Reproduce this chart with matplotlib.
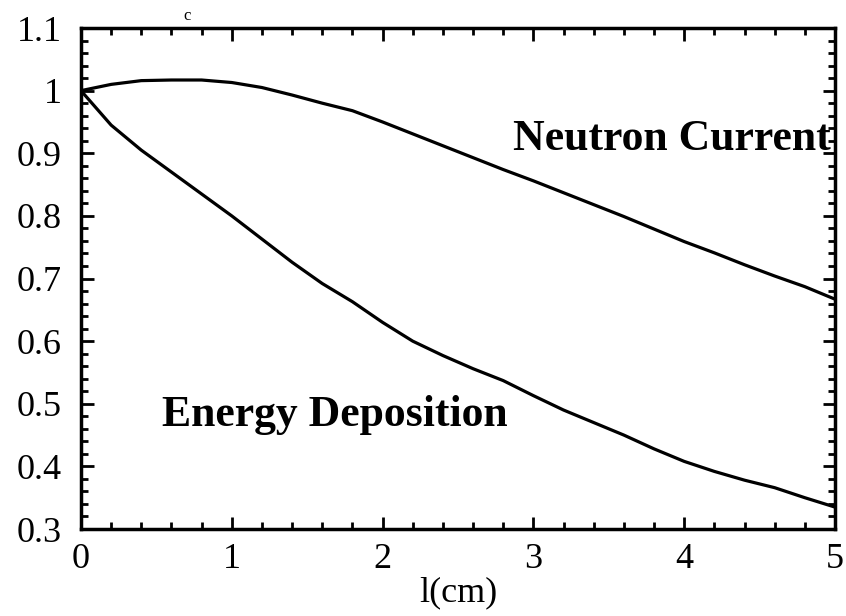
import numpy as np
import matplotlib.pyplot as plt
from matplotlib.ticker import MultipleLocator

plt.rc('font', family=['Liberation Serif', 'DejaVu Serif'], size=26)

# data
l_cm = [0.0, 0.2, 0.4, 0.6, 0.8, 1.0, 1.2, 1.4, 1.6, 1.8, 2.0, 2.2, 2.4,
        2.6, 2.8, 3.0, 3.2, 3.4, 3.6, 3.8, 4.0, 4.2, 4.4, 4.6, 4.8, 5.0]
neutron_current = [1.000, 1.010, 1.016, 1.017, 1.017, 1.013, 1.005, 0.993,
                   0.980, 0.968, 0.950, 0.931, 0.912, 0.893, 0.874, 0.856,
                   0.837, 0.818, 0.799, 0.779, 0.759, 0.741, 0.722, 0.704,
                   0.687, 0.667]
energy_deposition = [1.000, 0.945, 0.905, 0.870, 0.835, 0.800, 0.763, 0.726,
                     0.692, 0.663, 0.630, 0.600, 0.577, 0.556, 0.537, 0.513,
                     0.490, 0.470, 0.450, 0.428, 0.408, 0.392, 0.378, 0.366,
                     0.350, 0.335]

x_ticks = [0, 1, 2, 3, 4, 5]
x_labels = ['0', '1', '2', '3', '4', '5']
y_ticks = [0.3, 0.4, 0.5, 0.6, 0.7, 0.8, 0.9, 1.0, 1.1]
y_labels = ['0.3', '0.4', '0.5', '0.6', '0.7', '0.8', '0.9', '1', '1.1']

fig = plt.figure(figsize=(8.46, 6.16), dpi=100)
ax = fig.add_axes([0.0957, 0.1412, 0.8913, 0.8133])

ax.plot(l_cm, neutron_current, color='black', lw=2.3)
ax.plot(l_cm, energy_deposition, color='black', lw=2.3)

ax.text(2.865, 0.906, 'Neutron Current', fontsize=31.5, fontweight='bold',
        ha='left', va='baseline')
ax.text(0.54, 0.464, 'Energy Deposition', fontsize=31.5, fontweight='bold',
        ha='left', va='baseline')

ax.set_xlim(0, 5)
ax.set_ylim(0.3, 1.1)
ax.set_xticks(x_ticks)
ax.set_xticklabels(x_labels)
ax.set_yticks(y_ticks)
ax.set_yticklabels(y_labels)
ax.xaxis.set_minor_locator(MultipleLocator(0.2))
ax.yaxis.set_minor_locator(MultipleLocator(0.02))

ax.tick_params(which='both', direction='in', top=True, right=True, width=2)
ax.tick_params(which='major', length=9)
ax.tick_params(which='minor', length=5)
ax.tick_params(axis='y', which='major', pad=14)
ax.tick_params(axis='x', which='major', pad=10)
for s in ax.spines.values():
    s.set_linewidth(2.5)

ax.set_xlabel('l(cm)', fontsize=26, labelpad=0)

# small stray mark above the frame in the original scan
fig.text(187 / 846, 1 - 20 / 616, 'c', fontsize=12, ha='center')

plt.savefig('out.png', dpi=100)
